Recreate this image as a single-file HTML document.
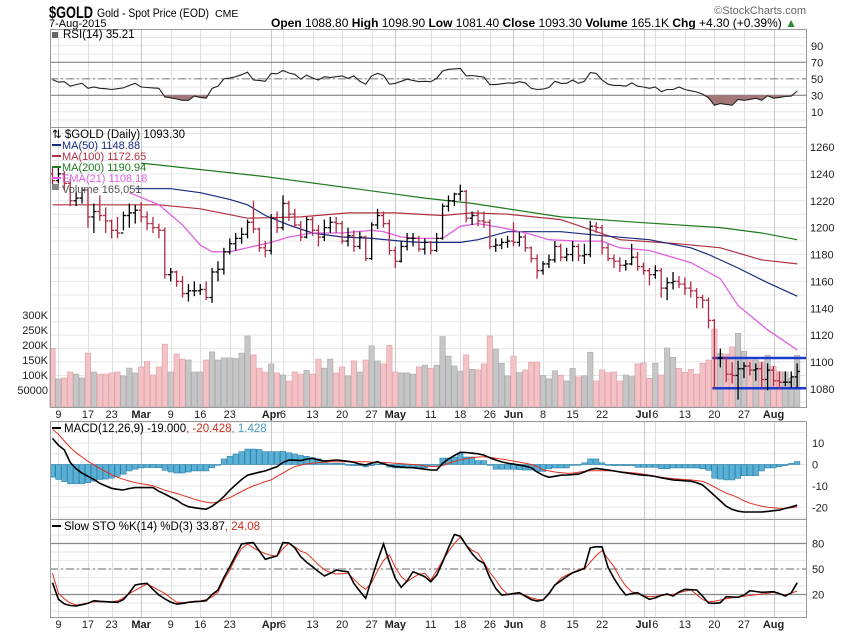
<!DOCTYPE html>
<html><head><meta charset="utf-8"><style>
html,body{margin:0;padding:0;background:#fff;}
svg{display:block;font-family:"Liberation Sans",sans-serif;}
</style></head><body>
<svg id="chart" width="850" height="633" viewBox="0 0 850 633">
<g id="hdr">
<text x="49" y="18" font-size="17" font-weight="bold" textLength="44" lengthAdjust="spacingAndGlyphs">$GOLD</text>
<text x="97" y="17" font-size="12" textLength="112" lengthAdjust="spacingAndGlyphs">Gold - Spot Price (EOD)</text>
<text x="215" y="17" font-size="10.5">CME</text>
<text x="49" y="27" font-size="11">7-Aug-2015</text>
<text x="806" y="14" font-size="11" fill="#666" text-anchor="end">©StockCharts.com</text>
<text x="797" y="27" font-size="12" text-anchor="end"><tspan font-weight="bold">Open</tspan> 1088.80  <tspan font-weight="bold">High</tspan> 1098.90  <tspan font-weight="bold">Low</tspan> 1081.40  <tspan font-weight="bold">Close</tspan> 1093.30  <tspan font-weight="bold">Volume</tspan> 165.1K  <tspan font-weight="bold">Chg</tspan> +4.30 (+0.39%) <tspan fill="#2a8a2a">▲</tspan></text>
</g>
<g id="grid"></g>
<g id="vol"></g>
<g id="lines"></g>
<g id="bars"></g>
<g id="frames"></g>
<g id="labels"></g>
<g id="legends">
<rect x="52" y="32" width="6" height="6" fill="#666"/>
<text x="63" y="38" font-size="11.5">RSI(14) 35.21</text>
<text x="52" y="138" font-size="11.5">⇅ $GOLD (Daily) 1093.30</text>
<line x1="52" y1="145" x2="61" y2="145" stroke="#1a2a80" stroke-width="2"/>
<text x="62" y="149" font-size="11" fill="#1a2a80">MA(50) 1148.88</text>
<line x1="52" y1="156" x2="61" y2="156" stroke="#b03040" stroke-width="2"/>
<text x="62" y="160" font-size="11" fill="#b03040">MA(100) 1172.65</text>
<line x1="52" y1="167" x2="61" y2="167" stroke="#1e7a1e" stroke-width="2"/>
<text x="62" y="171" font-size="11" fill="#1e7a1e">MA(200) 1190.94</text>
<line x1="52" y1="178" x2="61" y2="178" stroke="#e060e0" stroke-width="2"/>
<text x="62" y="182" font-size="11" fill="#e060e0">EMA(21) 1108.18</text>
<rect x="52" y="184" width="7" height="6" fill="#888"/>
<text x="62" y="193" font-size="11" fill="#555">Volume 165,051</text>
<line x1="52" y1="428" x2="61" y2="428" stroke="#000" stroke-width="2"/>
<text x="64" y="432" font-size="11.5">MACD(12,26,9) -19.000<tspan fill="#d03020">, -20.428</tspan><tspan fill="#4a9ac0">, 1.428</tspan></text>
<line x1="52" y1="526" x2="61" y2="526" stroke="#000" stroke-width="2"/>
<text x="64" y="530" font-size="11.5">Slow STO %K(14) %D(3) 33.87<tspan fill="#d03020">, 24.08</tspan></text>
</g>
</svg>
<script>
const closes=[1235,1240,1233,1220,1222,1228,1208,1212,1209,1205,1198,1196,1209,1211,1213,1208,1203,1200,1198,1165,1167,1160,1151,1153,1153,1154,1148,1167,1169,1182,1188,1192,1195,1204,1199,1185,1183,1207,1200,1218,1210,1202,1193,1206,1198,1193,1200,1204,1203,1190,1194,1186,1193,1177,1202,1209,1203,1183,1175,1186,1192,1192,1184,1189,1183,1192,1216,1220,1225,1227,1207,1209,1205,1204,1186,1187,1189,1190,1189,1193,1185,1177,1168,1173,1176,1186,1178,1180,1186,1179,1180,1201,1200,1185,1177,1175,1172,1173,1178,1171,1168,1165,1168,1155,1159,1160,1158,1155,1153,1148,1146,1131,1103,1103,1091,1090,1095,1097,1094,1095,1087,1094,1086,1085,1085,1089,1093];
const highs=[1245,1245,1242,1236,1227,1230,1228,1218,1224,1215,1206,1208,1212,1218,1217,1219,1212,1208,1203,1200,1170,1168,1164,1158,1160,1158,1160,1170,1175,1185,1192,1196,1200,1206,1220,1200,1190,1210,1212,1224,1220,1214,1205,1208,1208,1202,1206,1208,1208,1205,1200,1198,1197,1194,1204,1214,1212,1206,1186,1190,1196,1196,1194,1192,1190,1196,1218,1224,1226,1232,1228,1212,1213,1212,1206,1192,1192,1194,1204,1197,1195,1186,1180,1175,1180,1190,1188,1185,1190,1188,1188,1205,1204,1202,1188,1180,1178,1176,1188,1182,1174,1170,1172,1170,1163,1167,1164,1163,1160,1155,1150,1148,1132,1110,1104,1100,1101,1100,1100,1099,1100,1099,1097,1093,1093,1093,1099];
const lows=[1232,1233,1228,1216,1216,1218,1200,1196,1205,1196,1192,1192,1198,1200,1203,1204,1198,1196,1192,1162,1160,1156,1148,1145,1149,1150,1146,1144,1160,1165,1180,1183,1188,1192,1196,1182,1178,1180,1196,1198,1205,1200,1190,1192,1194,1186,1190,1196,1196,1188,1186,1182,1184,1175,1176,1199,1200,1180,1170,1174,1183,1186,1182,1180,1180,1182,1191,1212,1216,1220,1204,1202,1201,1200,1184,1182,1184,1185,1186,1186,1182,1174,1162,1165,1170,1174,1175,1175,1175,1175,1173,1178,1196,1180,1175,1170,1167,1168,1172,1168,1165,1157,1162,1148,1146,1154,1155,1150,1148,1140,1140,1125,1080,1096,1085,1084,1072,1088,1090,1086,1081,1079,1082,1080,1082,1081,1081];
const volumeK=[189,87,90,110,103,90,173,110,103,103,107,110,97,123,107,127,145,100,127,203,110,170,153,150,110,110,150,177,150,157,157,155,173,230,167,123,110,137,107,100,80,110,103,115,103,153,123,153,107,127,97,147,110,150,197,147,137,199,110,107,107,103,127,
133,122,133,228,163,130,113,167,119,117,137,230,186,139,97,163,108,117,143,143,98,87,114,99,80,122,94,97,176,80,117,108,110,80,100,95,137,140,89,139,100,190,159,122,109,119,103,139,150,253,172,170,194,239,179,150,150,144,166,128,111,110,91,166];
const ma50Idx=[14,20,25,30,33,36,40,44,49,54,59,62,69,72,77,81,86,93,101,108,111,116,121,126];
const ma50Val=[1229,1229,1226,1221,1217,1209,1202,1196,1193,1192,1190,1189,1189,1191,1197,1197,1197,1194,1191,1185,1180,1170,1159,1149];
const ma100Idx=[0,18,25,33,42,50,58,66,71,77,86,96,106,113,120,126];
const ma100Val=[1217,1217,1214,1207,1208,1211,1211,1209,1211,1210,1206,1191,1188,1185,1176,1173];
const ma200Idx=[15,36,63,71,86,99,113,120,126];
const ma200Val=[1248,1238,1222,1218,1208,1204,1200,1196,1191];
const emaIdx=[13,18,22,25,27,30,33,37,40,44,49,54,56,59,62,66,69,72,76,81,84,89,93,96,101,108,113,116,121,126];
const emaVal=[1226,1217,1202,1187,1182,1182,1185,1189,1193,1196,1196,1198,1197,1193,1192,1192,1201,1203,1200,1195,1191,1190,1190,1185,1183,1174,1162,1142,1124,1109];
const rsi=[49,46,46.5,41,43,44.5,38.5,40,38.5,38,37,38,39,42,44.5,40,39.5,39,38.5,28,27,25.5,24,24,29,27.5,26.5,38.5,41,50,51,52.5,55,58,48.5,48,47,56.5,56,60,57,55.5,49.5,54.5,51,48.5,52.5,51.5,52.5,53.5,50.5,53.5,47,43.5,53.5,56.5,54,43.5,44.5,47,49.5,48,46.5,47,46.5,50.5,59.5,61.5,62,62.5,53.5,54,53,52,43,43,44,45,44.5,46.5,45,38.5,37,37.5,39.5,47,44.5,44.5,48.5,44.5,47,57.5,56.5,48.5,43.5,42,42,41,45,41,40,38.5,40,34.5,37,37,40,37,35.5,34,31.5,27,18,20,19,18,25,24,25,26.5,24,29.5,26.5,27.5,28.5,29,35.2];
const macd=[12.2,9,6.8,1,-2,-4,-5.5,-7,-8.8,-10,-11.1,-11.6,-11.9,-11.2,-10.8,-10.8,-10.8,-10.8,-12.5,-13.8,-15.3,-16.6,-18.5,-19.7,-20.2,-20.6,-20.9,-19.5,-17.5,-15,-12,-9.5,-7,-5,-4.3,-3.6,-3,-2,-1,1,2.1,2,1.8,2.5,2.9,2.2,1.6,1.8,2.1,1.8,1.5,1,0.2,-0.2,0.6,1.3,0.3,-0.5,-1,-1.2,-1.4,-1.5,-1.8,-2.2,-2.5,-2.6,0.5,2.5,4.2,5.7,5.6,5.3,5,4.4,3.2,2.1,1.2,0.6,0.2,-0.3,-0.8,-1.5,-3.5,-5,-6,-5.5,-5,-4.9,-4.7,-4.5,-3.5,-2.3,-1.8,-2.2,-2.6,-3,-3.5,-3.9,-4.3,-4.7,-5,-5.2,-5.6,-6.2,-6.7,-7.2,-7.4,-7.6,-7.8,-8.5,-9.6,-12,-14.5,-17,-19.5,-21,-21.8,-22.2,-22.2,-22.2,-22.2,-21.9,-21.6,-21.3,-20.5,-19.8,-19];
const signal=[16.5,14.1,11,8,5.5,3.5,1.5,-0.2,-1.8,-3.3,-4.8,-6,-6.9,-7.7,-8.5,-9,-9.4,-9.9,-11,-12,-12.8,-13.5,-14.4,-15.3,-16.2,-17,-17.6,-18,-17.5,-16.5,-15.5,-14,-12.6,-11.2,-10,-9,-8,-7.2,-5.5,-4,-2.4,-1,-0.3,0.3,0.6,0.9,1.1,1.3,1.3,1.3,1.3,1.3,1.3,1.3,1.1,1,0.9,0.8,0.6,0.4,0.2,0,-0.2,-0.7,-0.9,-1,-0.5,0.5,1.4,2.2,2.8,3.2,3.5,3.6,3.3,2.9,2.5,2.1,1.6,1.1,0.6,0,-1,-2.5,-3,-3.5,-3.8,-4.1,-4,-3.6,-3.2,-2.9,-2.9,-2.9,-2.9,-3,-3.3,-3.6,-3.9,-4.1,-4.5,-5,-5.5,-6,-6.3,-6.6,-6.8,-7,-7.2,-7.5,-7.9,-9,-10.5,-12,-13.4,-14.3,-15.5,-17,-18.1,-18.8,-19.5,-20,-20.2,-20.4,-20.5,-20.2,-19.7];
const hist=[-5.9,-7,-8,-9,-9,-9,-8.5,-7.8,-7,-6.8,-6.4,-5.6,-4.5,-3,-2.2,-1.6,-1.4,-1.4,-1.5,-2.7,-3.5,-4,-4,-3.5,-3,-3,-3,-1.5,0,2.6,3.8,4.9,6,7.2,7.2,7,6,6,6,6.1,5.5,4.9,4.2,3.8,3.2,2.6,1.8,0.5,0.6,0.5,-0.3,-0.5,-0.5,-1.1,-0.5,0.3,0.9,-1.2,-1.6,-1.6,-1.6,-1.5,-1.5,-1.5,-0.3,-0.3,3,3,3.5,5,3.5,3.5,1.8,1.8,-0.3,-2.2,-2.2,-2.2,-2.2,-2.4,-2.6,-2.6,-3.2,-3.2,-2,-1.6,-1.6,-1.6,-0.3,0,0.8,2.6,2.6,0.8,-0.3,-0.5,-0.5,-0.5,-0.5,-1.3,-1.3,-1.3,-1.3,-2,-2,-1.6,-1.6,-1.6,-1.6,-1.6,-2,-2.7,-6.4,-6.8,-7.2,-7.2,-6.5,-5.2,-5.2,-5.2,-3,-1.6,-1.6,-1,-0.5,0.5,1.4];
const stoK=[33.9,14.4,9,7,6.5,8,9.6,12.7,12,11.5,11,10.8,14,22,31.2,32.5,33.2,26,19.4,15,11,8.8,9.5,10.8,11.5,12,12.7,20,25.3,40,52.7,66,79.4,80.5,81,71,61.4,63.5,65.3,81,80.6,75,64.5,58,52.7,47,41.8,45,48.8,47.5,46.8,33,24,15.5,38,60,79.4,58,39,28.5,36,46.8,44,40.9,35.1,42.9,58,75,90.6,88.6,78,68,60.6,56.7,40,27,19.4,20,21,22.1,18,14,12.4,13.5,21,31.2,36,41,45.6,48,50.8,75,76.2,76,52,39,28,19.4,21,22.1,18,14.4,16,19,20.6,18.2,23,26.1,25.7,25.3,18,10,9.6,10.4,17.4,17,16.7,19.4,24.5,23.5,22.6,23,23.3,21,18.2,22,33.9];
const stoD=[44.9,21.4,15,10,7.6,8.5,10,11.5,11.5,11.5,11.5,12.5,16,21,25,29,32.4,29,25,21.4,16,11,10.5,11,12,12.4,14,17,23,37,48.8,63,74,79.4,75,71,68,66,65.3,74,80.2,76,71,68.5,62,55,48.8,46,44.1,44.5,44.9,38,31,26.1,34,48,60,66.5,52,41,35.1,40,43.8,44.9,37.1,48,60,70.4,80,87.3,78,72,68.5,58,46,37,27,20.2,21,21.4,19,16,14.5,13.5,20,31,39,43,46,49,49.6,58,66,71.5,62,52.7,40,30,23.3,21,18.5,17.4,18,19,19.5,20.2,22,24,25.3,20,14,11.5,12,13.5,15,16.2,17,18,19,19.8,20.6,21.5,22.6,21,19.4,21.5,24.1];
const dateLabels=["9","17","23","Mar","9","16","23","Apr","6","13","20","27","May","11","18","26","Jun","8","15","22","Jul","6","13","20","27","Aug"];
const dateIdx=[1,6,10,15,20,25,30,37,39,44,49,54,58,64,69,74,78,83,88,93,100,102,107,112,117,122];
const rsiTicks=[90,70,50,30,10];
const priceTicks=[1260,1240,1220,1200,1180,1160,1140,1120,1100,1080];
const volTicks=[300,250,200,150,100,50];
const volTickLabels=["300K","250K","200K","150K","100K","50000"];
const macdTicks=[10,0,-10,-20];
const stoTicks=[80,50,20];
const rangeTop=1103, rangeBottom=1080.5, rangeStart=112;

const NS="http://www.w3.org/2000/svg";
const L=50,R=806;
const X=i=>52.5+i*5.91;
const YP=v=>147+(1260-v)*1.344;
const YV=k=>405-k*0.3;
const YR=v=>62.3+(70-v)*0.825;
const YM=v=>464.5-v*2.14;
const YS=v=>594.5-(v-20)*0.85;
function mk(tag,attrs,parent){const e=document.createElementNS(NS,tag);for(const k in attrs)e.setAttribute(k,attrs[k]);parent.appendChild(e);return e;}
const grid=document.getElementById('grid'),vol=document.getElementById('vol'),lines=document.getElementById('lines'),bars=document.getElementById('bars'),frames=document.getElementById('frames'),labels=document.getElementById('labels');
const svg=document.getElementById('chart');
const defs=mk('defs',{},svg);
function clip(id,y1,y2){const c=mk('clipPath',{id:id},defs);mk('rect',{x:L,y:y1,width:R-L,height:y2-y1},c);}
clip('cr',29,127);clip('cp',127,407);clip('cm',421,519);clip('cs',519,617);
const panels=[[29,127],[127,407],[421,519],[519,617]];
function hgrid(vals,f,y1,y2,col){vals.forEach(v=>{const y=f(v);if(y>y1&&y<y2){const l=mk('line',{x1:L,x2:R,y1:y,y2:y,stroke:col,'stroke-width':1},grid);}});}
const rl=[];for(let v=0;v<=100;v+=10)rl.push(v);hgrid(rl,YR,29,127,'#e6e6e6');
const pl=[];for(let v=1070;v<=1280;v+=10)pl.push(v);hgrid(pl,YP,127,407,'#e6e6e6');
const ml=[];for(let v=-25;v<=20;v+=5)ml.push(v);hgrid(ml,YM,421,519,'#e6e6e6');
const sl=[];for(let v=-10;v<=110;v+=10)sl.push(v);hgrid(sl,YS,519,617,'#e6e6e6');
dateIdx.forEach((ix,j)=>{const x=Math.round(X(ix))+0.5;const month=isNaN(+dateLabels[j]);panels.forEach(p=>{const l=mk('line',{x1:x,x2:x,y1:p[0],y2:p[1],stroke:month?'#c8c8c8':'#e0e0e0','stroke-width':1},grid);});});
function ref(y,dash,col){const a={x1:L,x2:R,y1:y,y2:y,stroke:col,'stroke-width':1.2};if(dash)a['stroke-dasharray']='8,3,2,3';const l=mk('line',a,grid);}
ref(YR(70),0,'#888');ref(YR(30),0,'#888');ref(YR(50),1,'#888');
ref(YS(80),0,'#888');ref(YS(20),0,'#888');ref(YS(50),1,'#888');
volumeK.forEach((k,i)=>{const up=i==0?false:closes[i]>=closes[i-1];const r=mk('rect',{x:X(i)-2.7,y:YV(k),width:5.4,height:405-YV(k)+2,fill:up?'#c6c6c6':'#f2c2c6',stroke:up?'#a8a8a8':'#e0a0a6','stroke-width':0.6},vol);});
function pathIdx(idx,vals,f,col,w,cp,name){let d='';idx.forEach((ix,j)=>{d+=(j?'L':'M')+X(ix).toFixed(1)+','+f(vals[j]).toFixed(1);});const p=mk('path',{d:d,fill:'none',stroke:col,'stroke-width':w,'clip-path':'url(#'+cp+')'},lines);return d;}
const allIdx=closes.map((c,i)=>i);
(function(){let d='M'+X(0)+','+YR(30);rsi.forEach((v,i)=>{d+='L'+X(i).toFixed(1)+','+YR(v).toFixed(1);});d+='L'+X(rsi.length-1)+','+YR(30)+'Z';const c=mk('clipPath',{id:'r30'},defs);mk('rect',{x:L,y:YR(30),width:R-L,height:40},c);const p=mk('path',{d:d,fill:'#a47878','clip-path':'url(#r30)'},lines);})();
pathIdx(allIdx,rsi,YR,'#222',1.1,'cr','rsi-line');
pathIdx(ma200Idx,ma200Val,YP,'#1e7a1e',1.2,'cp','ma200-line');
pathIdx(ma100Idx,ma100Val,YP,'#b03040',1.2,'cp','ma100-line');
pathIdx(ma50Idx,ma50Val,YP,'#1a2a80',1.2,'cp','ma50-line');
pathIdx(emaIdx,emaVal,YP,'#e060e0',1.3,'cp','ema21-line');
[rangeTop,rangeBottom].forEach(v=>{const l=mk('line',{x1:X(rangeStart)-2,x2:R,y1:YP(v),y2:YP(v),stroke:'#1a3ad0','stroke-width':2.6},lines);});
hist.forEach((h,i)=>{const y0=YM(0),y=YM(h);const r=mk('rect',{x:X(i)-2.7,y:Math.min(y0,y),width:5.4,height:Math.max(0.8,Math.abs(y-y0)),fill:'#5ab0d4',stroke:'#2a80aa','stroke-width':0.6,'clip-path':'url(#cm)'},lines);});
pathIdx(allIdx,signal,YM,'#e03020',1,'cm','macd-signal-line');
pathIdx(allIdx,macd,YM,'#000',1.6,'cm','macd-line');
pathIdx(allIdx,stoD,YS,'#e03020',1,'cs','sto-d-line');
pathIdx(allIdx,stoK,YS,'#000',1.6,'cs','sto-k-line');
closes.forEach((c,i)=>{const o=i==0?1240:closes[i-1];const up=i==0?false:c>=o;const col=up?'#000':'#b02a44';const x=X(i);const g=mk('g',{stroke:col,'stroke-width':1.3,'clip-path':'url(#cp)'},bars);mk('line',{x1:x,x2:x,y1:YP(highs[i]),y2:YP(lows[i])},g);mk('line',{x1:x-2.6,x2:x,y1:YP(o),y2:YP(o)},g);mk('line',{x1:x,x2:x+2.6,y1:YP(c),y2:YP(c)},g);});
panels.forEach(p=>{const r=mk('rect',{x:L+0.5,y:p[0]+0.5,width:R-L,height:p[1]-p[0],fill:'none',stroke:'#999','stroke-width':1},frames);});
function ylab(vals,txt,f,x,anchor){vals.forEach((v,j)=>{const t=mk('text',{x:x,y:f(v)+4,'font-size':11,'text-anchor':anchor,fill:'#222'},labels);t.textContent=txt?txt[j]:String(v);});}
ylab(rsiTicks,null,YR,811,'start');ylab(priceTicks,null,YP,810,'start');ylab(macdTicks,null,YM,812,'start');ylab(stoTicks,null,YS,812,'start');
ylab(volTicks,volTickLabels,YV,48,'end');
[418,628].forEach(y=>{dateLabels.forEach((s,j)=>{const month=isNaN(+s);const t=mk('text',{x:X(dateIdx[j]),y:y,'font-size':11,'text-anchor':'middle','font-weight':month?'bold':'normal',fill:'#222'},labels);t.textContent=s;});});
</script>
</body></html>
